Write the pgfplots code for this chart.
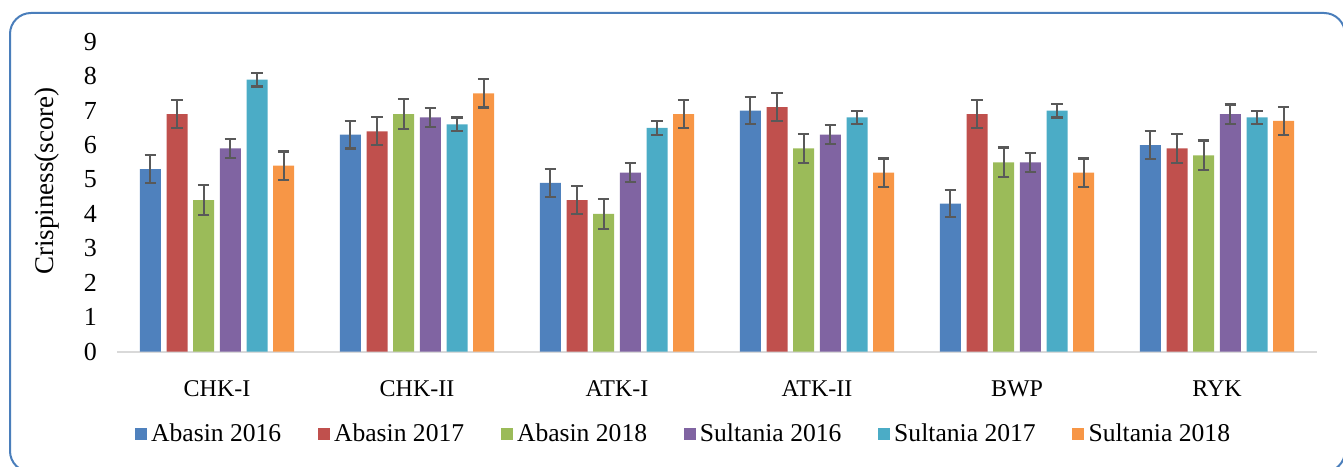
\documentclass[border=0pt]{standalone}
\usepackage{fontspec}
\setmainfont{Liberation Serif}
\usepackage{pgfplots}
\pgfplotsset{compat=1.18}
\definecolor{cA}{HTML}{4F81BD}
\definecolor{cB}{HTML}{C0504D}
\definecolor{cC}{HTML}{9BBB59}
\definecolor{cD}{HTML}{8064A2}
\definecolor{cE}{HTML}{4BACC6}
\definecolor{cF}{HTML}{F79646}
\definecolor{errc}{HTML}{595959}
\definecolor{framec}{HTML}{4A7EBB}
\begin{document}
\begin{tikzpicture}
\useasboundingbox (0,0) rectangle (671.5pt,233pt);
\draw[framec, line width=1pt, rounded corners=10.5pt] (5pt,226.5pt) rectangle (672.5pt,-3pt);
\begin{axis}[
  at={(58.5pt,57.15pt)}, anchor=south west,
  scale only axis, width=600pt, height=155pt,
  xmin=-0.5, xmax=5.5, ymin=0, ymax=9,
  axis x line*=bottom, axis y line*=left,
  x axis line style={draw=black!15, line width=0.8pt, -},
  y axis line style={draw=none},
  xtick=data, xticklabels={CHK-I,CHK-II,ATK-I,ATK-II,BWP,RYK},
  ytick={0,1,...,9},
  xtick style={draw=none}, ytick style={draw=none},
  /pgf/number format/assume math mode=true,
  xticklabel style={font=\fontsize{12}{14}\selectfont, yshift=-6.5pt},
  yticklabel style={font=\fontsize{13}{15}\selectfont, xshift=-6.5pt},
  ylabel={Crispiness(score)},
  ylabel style={font=\fontsize{13.5}{16}\selectfont, at={(axis description cs:-0.0583,0.551)}, anchor=center},
  ybar, bar width=10.5pt,
  every axis plot/.append style={draw=none},
  error bars/error bar style={errc, line width=1.1pt},
  error bars/error mark options={rotate=90, mark size=2.9pt, line width=1.1pt, errc},
  legend columns=6,
  legend style={draw=none, fill=none, at={(axis description cs:0.473,-0.265)}, anchor=center,
    font=\fontsize{12.8}{15}\selectfont,
    /tikz/every even column/.append style={column sep=16pt},
    /tikz/every odd column/.append style={column sep=0pt},
    nodes={inner xsep=2.2pt}},
  legend image code/.code={\fill[#1] (0pt,-3pt) rectangle (6pt,3pt);},
]
\addplot[fill=cA, bar shift=-33.33pt, error bars/.cd, y dir=both, y explicit] coordinates {
 (0,5.3) +- (0,0.4) (1,6.3) +- (0,0.4) (2,4.9) +- (0,0.4) (3,7.0) +- (0,0.4) (4,4.3) +- (0,0.4) (5,6.0) +- (0,0.4)};
\addplot[fill=cB, bar shift=-20pt, error bars/.cd, y dir=both, y explicit] coordinates {
 (0,6.9) +- (0,0.41) (1,6.4) +- (0,0.41) (2,4.4) +- (0,0.41) (3,7.1) +- (0,0.41) (4,6.9) +- (0,0.41) (5,5.9) +- (0,0.41)};
\addplot[fill=cC, bar shift=-6.67pt, error bars/.cd, y dir=both, y explicit] coordinates {
 (0,4.4) +- (0,0.43) (1,6.9) +- (0,0.43) (2,4.0) +- (0,0.43) (3,5.9) +- (0,0.43) (4,5.5) +- (0,0.43) (5,5.7) +- (0,0.43)};
\addplot[fill=cD, bar shift=6.67pt, error bars/.cd, y dir=both, y explicit] coordinates {
 (0,5.9) +- (0,0.28) (1,6.8) +- (0,0.28) (2,5.2) +- (0,0.28) (3,6.3) +- (0,0.28) (4,5.5) +- (0,0.28) (5,6.9) +- (0,0.28)};
\addplot[fill=cE, bar shift=20pt, error bars/.cd, y dir=both, y explicit] coordinates {
 (0,7.9) +- (0,0.2) (1,6.6) +- (0,0.2) (2,6.5) +- (0,0.2) (3,6.8) +- (0,0.2) (4,7.0) +- (0,0.2) (5,6.8) +- (0,0.2)};
\addplot[fill=cF, bar shift=33.33pt, error bars/.cd, y dir=both, y explicit] coordinates {
 (0,5.4) +- (0,0.41) (1,7.5) +- (0,0.41) (2,6.9) +- (0,0.41) (3,5.2) +- (0,0.41) (4,5.2) +- (0,0.41) (5,6.7) +- (0,0.41)};
\legend{Abasin 2016,Abasin 2017,Abasin 2018,Sultania 2016,Sultania 2017,Sultania 2018}
\end{axis}
\end{tikzpicture}
\end{document}
